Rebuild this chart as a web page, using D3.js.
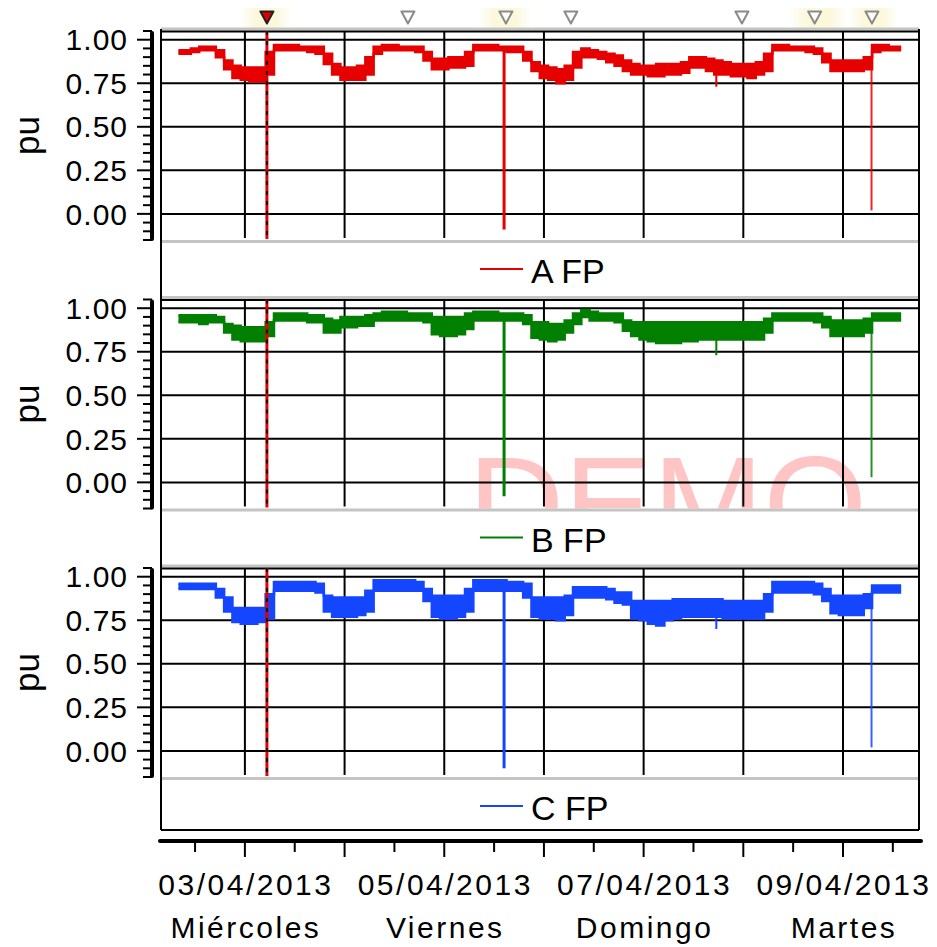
<!DOCTYPE html>
<html><head><meta charset="utf-8">
<script src="https://cdn.jsdelivr.net/npm/d3@7"></script>
<style>body{margin:0;background:#fff}svg{display:block}</style>
</head><body><svg id="c" width="937" height="947"></svg>
<script>
// ---------- DATA ----------
const seriesNames = ["A FP", "B FP", "C FP"];
const seriesColors = ["#e60000", "#007f00", "#1446ff"];
const startTime = "2013-04-02T08:00";
const stepHours = 2;

const aHi = [.94,.94,.95,.96,.96,.94,.88,.85,
 .84,.84,.84,.93,.97,.97,.97,.96,.96,.96,.92,.86,
 .84,.84,.85,.90,.96,.97,.97,.96,.96,.96,.93,.89,
 .89,.90,.90,.93,.97,.97,.97,.96,.96,.96,.93,.87,
 .85,.84,.83,.85,.93,.95,.94,.93,.92,.91,.88,.86,
 .85,.85,.86,.86,.86,.87,.90,.90,.89,.88,.87,.86,
 .86,.86,.87,.92,.97,.97,.96,.96,.96,.95,.92,.88,
 .88,.88,.88,.90,.97,.97,.96,.96];
const aLo = [.92,.92,.93,.94,.94,.90,.83,.78,
 .77,.76,.76,.80,.94,.94,.94,.94,.93,.92,.86,.80,
 .77,.77,.77,.80,.92,.94,.94,.94,.94,.93,.88,.83,
 .83,.84,.84,.85,.94,.94,.94,.94,.93,.93,.88,.82,
 .78,.77,.75,.77,.84,.90,.90,.89,.87,.85,.82,.80,
 .80,.79,.79,.80,.80,.81,.84,.84,.82,.80,.80,.79,
 .79,.78,.80,.82,.94,.94,.94,.94,.93,.92,.87,.82,
 .82,.82,.82,.83,.93,.94,.94,.94];
const bHi = [.96,.96,.96,.96,.96,.95,.91,.90,
 .89,.89,.89,.92,.97,.97,.97,.97,.96,.96,.94,.93,
 .95,.95,.95,.96,.97,.98,.98,.98,.97,.97,.97,.95,
 .95,.95,.95,.97,.98,.98,.98,.97,.97,.97,.96,.92,
 .92,.91,.91,.93,.97,.99,.98,.97,.97,.97,.93,.92,
 .92,.92,.92,.92,.92,.92,.92,.92,.92,.92,.92,.92,
 .92,.92,.92,.94,.97,.97,.97,.97,.97,.97,.95,.93,
 .93,.93,.93,.94,.97,.97,.97,.97];
const bLo = [.92,.92,.92,.91,.92,.92,.86,.82,
 .81,.81,.81,.84,.93,.93,.93,.93,.92,.92,.86,.86,
 .89,.89,.90,.90,.93,.93,.93,.93,.93,.93,.92,.85,
 .84,.84,.85,.88,.93,.93,.93,.93,.93,.93,.91,.83,
 .82,.81,.82,.86,.91,.95,.93,.93,.93,.92,.87,.84,
 .82,.81,.80,.80,.80,.81,.81,.82,.82,.82,.82,.82,
 .82,.82,.82,.86,.93,.93,.93,.93,.93,.92,.89,.84,
 .84,.84,.84,.86,.93,.93,.93,.93];
const cHi = [.96,.96,.96,.96,.96,.93,.88,.82,
 .82,.82,.82,.90,.97,.97,.97,.97,.97,.96,.89,.88,
 .88,.88,.88,.92,.98,.98,.98,.98,.98,.97,.93,.89,
 .89,.89,.89,.93,.98,.98,.98,.98,.97,.97,.96,.88,
 .88,.88,.88,.89,.94,.94,.94,.94,.93,.91,.91,.86,
 .86,.86,.86,.86,.87,.87,.87,.87,.87,.87,.86,.86,
 .86,.86,.86,.90,.97,.97,.97,.97,.97,.96,.93,.89,
 .89,.89,.89,.90,.95,.95,.95,.95];
const cLo = [.93,.93,.93,.93,.93,.88,.80,.74,
 .73,.73,.74,.76,.92,.92,.92,.92,.92,.91,.80,.77,
 .77,.77,.78,.80,.92,.92,.92,.92,.92,.92,.86,.77,
 .76,.76,.77,.80,.92,.92,.92,.92,.92,.92,.88,.77,
 .76,.76,.75,.78,.88,.88,.88,.88,.87,.85,.84,.76,
 .75,.73,.72,.75,.76,.77,.77,.77,.77,.77,.76,.76,
 .76,.76,.76,.80,.91,.91,.91,.91,.91,.90,.86,.79,
 .78,.78,.78,.82,.91,.91,.91,.91];

const spikeTimes = ["2013-04-05T14:24", "2013-04-07T17:30", "2013-04-09T06:52"];
const spikeWidths = [3, 2, 2];
const aSpikeLow = [-0.09, 0.73, 0.02];
const bSpikeLow = [-0.08, 0.73, 0.03];
const cSpikeLow = [-0.10, 0.70, 0.02];

const cursorTime = "2013-04-03T05:18";
const markerTimes = ["2013-04-03T05:18","2013-04-04T15:15","2013-04-05T14:51","2013-04-06T06:29","2013-04-07T23:40","2013-04-08T17:11","2013-04-09T06:58"];
const highlightRanges = [["2013-04-02T22:48","2013-04-03T11:19"],["2013-04-05T08:06","2013-04-05T21:06"],["2013-04-08T10:44","2013-04-09T01:11"],["2013-04-09T01:11","2013-04-09T13:13"]];

const yTickValues = [0, 0.25, 0.5, 0.75, 1];
const yTickLabels = ["0.00", "0.25", "0.50", "0.75", "1.00"];
const xLabelDates = ["2013-04-03T00:00", "2013-04-05T00:00", "2013-04-07T00:00", "2013-04-09T00:00"];
const xLabelLine1 = ["03/04/2013", "05/04/2013", "07/04/2013", "09/04/2013"];
const xLabelLine2 = ["Miércoles", "Viernes", "Domingo", "Martes"];
const yAxisTitle = "pu";
const watermark = "DEMO";

// ---------- LAYOUT ----------
const parse = d3.timeParse("%Y-%m-%dT%H:%M");
const L = 161, R = 919;
const x = d3.scaleTime().domain([parse("2013-04-02T03:48"), parse("2013-04-09T18:18")]).range([L, R]);
const t0 = parse(startTime);
const series = [
  {hi: aHi, lo: aLo, spk: aSpikeLow},
  {hi: bHi, lo: bLo, spk: bSpikeLow},
  {hi: cHi, lo: cLo, spk: cSpikeLow}
];
const times = aHi.map((_, i) => d3.timeHour.offset(t0, i * stepHours));
const svg = d3.select("#c");
const FONT = "'Liberation Sans', Arial, sans-serif";
const defs = svg.append("defs");
const g = defs.append("linearGradient").attr("id", "hl");
[[0,0],[0.3,1],[0.7,1],[1,0]].forEach(([o,a]) => g.append("stop").attr("offset", o).attr("stop-color", "#fbf8dc").attr("stop-opacity", a));

// highlights + markers
highlightRanges.forEach(r => {
  svg.append("rect").attr("x", x(parse(r[0]))).attr("width", x(parse(r[1])) - x(parse(r[0])))
    .attr("y", 8).attr("height", 21).attr("fill", "url(#hl)");
});
markerTimes.forEach((t, i) => {
  const cx = x(parse(t));
  svg.append("path").attr("d", `M${cx-6.5},11.5L${cx+6.5},11.5L${cx},23.5Z`)
    .attr("fill", i === 0 ? "#e00000" : "#fff")
    .attr("stroke", i === 0 ? "#222" : "#8a8a8a").attr("stroke-width", 2).attr("stroke-linejoin", "round");
});

const panelPitch = 268.5, plotH = 209;
const days = d3.timeDay.range(parse("2013-04-03T00:00"), parse("2013-04-09T12:00"));
const noons = d3.timeHour.every(12).range(parse("2013-04-02T12:00"), parse("2013-04-09T18:00")).filter(d => d.getHours() === 12);

series.forEach((s, p) => {
  const top = 31 + p * panelPitch, bot = top + plotH;
  const y = d3.scaleLinear().domain([-0.15, 1.05]).range([bot, top]);
  const pg = svg.append("g");
  const cid = "clip" + p;
  defs.append("clipPath").attr("id", cid).append("rect").attr("x", L).attr("y", top).attr("width", R - L).attr("height", plotH);

  // top shadow + border
  pg.append("line").attr("x1", L).attr("x2", R).attr("y1", top - 2).attr("y2", top - 2).attr("stroke", "#c4c4c4").attr("stroke-width", 3);
  pg.append("line").attr("x1", L).attr("x2", R).attr("y1", top + 0.5).attr("y2", top + 0.5).attr("stroke", "#000").attr("stroke-width", 2);

  if (p === 1) {
    pg.append("text").attr("clip-path", `url(#${cid})`).attr("x", 468).attr("y", 550)
      .attr("font-family", FONT).attr("font-size", 133).attr("fill", "#ffc4c4").text(watermark);
  }
  // grid
  pg.selectAll(".hg").data(yTickValues).join("line").attr("x1", L).attr("x2", R)
    .attr("y1", d => y(d)).attr("y2", d => y(d)).attr("stroke", "#000").attr("stroke-width", 2);
  pg.selectAll(".vg").data(days).join("line").attr("x1", d => x(d)).attr("x2", d => x(d))
    .attr("y1", top).attr("y2", bot - 2).attr("stroke", "#000").attr("stroke-width", 2);

  // data band
  const idx = d3.range(times.length);
  const col = seriesColors[p];
  const dg = pg.append("g").attr("clip-path", `url(#${cid})`);
  dg.append("path").datum(idx).attr("fill", col)
    .attr("d", d3.area().curve(d3.curveStep).x(i => x(times[i])).y0(i => y(s.lo[i])).y1(i => y(s.hi[i])));
  [s.hi, s.lo].forEach(arr => {
    dg.append("path").datum(idx).attr("fill", "none").attr("stroke", col).attr("stroke-width", 2.5)
      .attr("d", d3.line().curve(d3.curveStep).x(i => x(times[i])).y(i => y(arr[i])));
  });
  // spikes
  spikeTimes.forEach((st, k) => {
    const t = parse(st);
    const ii = Math.min(times.length - 1, Math.round((t - t0) / (stepHours * 3600e3)));
    dg.append("line").attr("x1", x(t)).attr("x2", x(t)).attr("y1", y(s.lo[ii])).attr("y2", y(s.spk[k]))
      .attr("stroke", col).attr("stroke-width", spikeWidths[k]).attr("stroke-opacity", k === 2 ? 0.85 : 1);
  });
  // cursor
  const cx = x(parse(cursorTime));
  pg.append("line").attr("x1", cx).attr("x2", cx).attr("y1", top).attr("y2", bot - 1).attr("stroke", "#e00000").attr("stroke-width", 3);
  pg.append("line").attr("x1", cx).attr("x2", cx).attr("y1", top).attr("y2", bot - 1).attr("stroke", "#111").attr("stroke-width", 2).attr("stroke-dasharray", "4,6");

  // bottom shadow
  pg.append("line").attr("x1", L).attr("x2", R).attr("y1", bot + 1.5).attr("y2", bot + 1.5).attr("stroke", "#c4c4c4").attr("stroke-width", 3);

  // left axis
  const ax = 152;
  pg.append("line").attr("x1", ax).attr("x2", ax).attr("y1", top + 2).attr("y2", bot - 1).attr("stroke", "#000").attr("stroke-width", 4).attr("stroke-linecap", "round");
  const minor = d3.range(-15, 106, 5).map(v => v / 100);
  pg.selectAll(".mt").data(minor).join("line").attr("x1", d => (Math.round(d * 100) % 25 === 0) ? 137 : 143).attr("x2", ax)
    .attr("y1", d => y(d)).attr("y2", d => y(d)).attr("stroke", "#000").attr("stroke-width", 2);
  pg.selectAll(".tl").data(yTickValues).join("text").attr("x", 128).attr("y", d => y(d) + 10.7)
    .attr("text-anchor", "end").attr("font-family", FONT).attr("font-size", 30).attr("letter-spacing", "1px")
    .text((d, i) => yTickLabels[i]);
  pg.append("text").attr("transform", `translate(39,${(top + bot) / 2}) rotate(-90)`).attr("text-anchor", "middle")
    .attr("font-family", FONT).attr("font-size", 35).text(yAxisTitle);

  // legend
  pg.append("line").attr("x1", 480).attr("x2", 523).attr("y1", bot + 29).attr("y2", bot + 29).attr("stroke", col).attr("stroke-width", 2);
  pg.append("text").attr("x", 531).attr("y", bot + 43).attr("font-family", FONT).attr("font-size", 34).text(seriesNames[p]);
});

// frame
const frameBottom = 31 + 2 * panelPitch + plotH + 53;
svg.append("line").attr("x1", L).attr("x2", L).attr("y1", 29).attr("y2", frameBottom).attr("stroke", "#000").attr("stroke-width", 2);
svg.append("line").attr("x1", R).attr("x2", R).attr("y1", 29).attr("y2", frameBottom).attr("stroke", "#000").attr("stroke-width", 2);
svg.append("line").attr("x1", L).attr("x2", R).attr("y1", frameBottom).attr("y2", frameBottom).attr("stroke", "#000").attr("stroke-width", 2);

// x axis
const xa = 841;
svg.append("line").attr("x1", 160).attr("x2", 921).attr("y1", xa).attr("y2", xa).attr("stroke", "#000").attr("stroke-width", 4).attr("stroke-linecap", "round");
svg.selectAll(".xM").data(days).join("line").attr("x1", d => x(d)).attr("x2", d => x(d)).attr("y1", xa).attr("y2", xa + 16).attr("stroke", "#000").attr("stroke-width", 2);
svg.selectAll(".xm").data(noons).join("line").attr("x1", d => x(d)).attr("x2", d => x(d)).attr("y1", xa).attr("y2", xa + 11).attr("stroke", "#000").attr("stroke-width", 2);
xLabelDates.forEach((d, i) => {
  const cx = x(parse(d));
  svg.append("text").attr("x", cx + 1).attr("y", 895).attr("text-anchor", "middle").attr("font-family", FONT)
    .attr("font-size", 30).attr("letter-spacing", "2.5px").text(xLabelLine1[i]);
  svg.append("text").attr("x", cx + 1).attr("y", 938).attr("text-anchor", "middle").attr("font-family", FONT)
    .attr("font-size", 30).attr("letter-spacing", "2.5px").text(xLabelLine2[i]);
});
</script></body></html>
